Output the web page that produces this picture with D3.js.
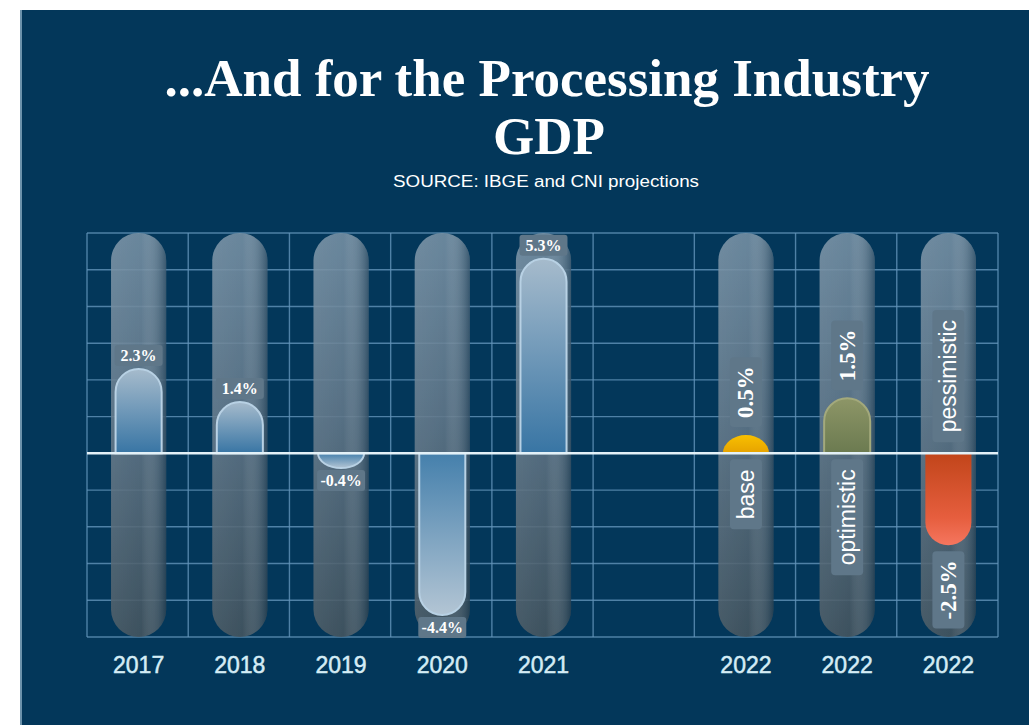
<!DOCTYPE html>
<meta charset="utf-8">
<style>
  body {
    margin: 0;
    background: #fff;
  }
  .title {
    font-family: "Liberation Serif", "Times New Roman", serif;
    font-weight: bold;
    font-size: 53px;
    fill: #fff;
    text-anchor: middle;
  }
  .source {
    font-family: "Liberation Sans", Arial, sans-serif;
    font-size: 16px;
    fill: #fff;
    text-anchor: middle;
  }
  .grid line {
    stroke: #6394ba;
    stroke-width: 1.4;
    opacity: 0.8;
  }
  .year {
    font-family: "Liberation Sans", Arial, sans-serif;
    font-size: 23px;
    fill: #d4ecf5;
    stroke: #d4ecf5;
    stroke-width: 0.5;
    text-anchor: middle;
  }
  .val {
    font-family: "Liberation Serif", "Times New Roman", serif;
    font-weight: bold;
    fill: #fff;
    text-anchor: middle;
  }
  .scen {
    font-family: "Liberation Sans", Arial, sans-serif;
    font-size: 23px;
    fill: #fff;
    text-anchor: middle;
  }
</style>
<body>
<svg id="chart" width="1029" height="725"></svg>
<script src="https://cdn.jsdelivr.net/npm/d3@7/dist/d3.min.js"></script>
<script>
// data
var slots = ["2017", "2018", "2019", "2020", "2021", "", "2022 base", "2022 optimistic", "2022 pessimistic"];
var keys = ["2017", "2018", "2019", "2020", "2021", "2022 base", "2022 optimistic", "2022 pessimistic"];
var years = ["2017", "2018", "2019", "2020", "2021", "2022", "2022", "2022"];
var values = [2.3, 1.4, -0.4, -4.4, 5.3, 0.5, 1.5, -2.5];
var scenarios = ["", "", "", "", "", "base", "optimistic", "pessimistic"];
var yTicks = [-5, -4, -3, -2, -1, 0, 1, 2, 3, 4, 5, 6];

var svg = d3.select("#chart");

// panel background
svg.append("rect")
    .attr("x", 20).attr("y", 10)
    .attr("width", 1009).attr("height", 715)
    .attr("fill", "#03375a");
svg.append("rect")
    .attr("x", 20).attr("y", 10)
    .attr("width", 2).attr("height", 715)
    .attr("fill", "#6c92ab");

svg.append("text").attr("class", "title")
    .attr("x", 547).attr("y", 96)
    .text("...And for the Processing Industry");
svg.append("text").attr("class", "title")
    .attr("x", 549).attr("y", 154)
    .text("GDP");
svg.append("text").attr("class", "source")
    .attr("x", 546).attr("y", 187)
    .attr("textLength", 306)
    .attr("lengthAdjust", "spacingAndGlyphs")
    .text("SOURCE: IBGE and CNI projections");

var x = d3.scaleBand()
    .domain(slots)
    .range([87, 998]);

var y = d3.scaleLinear()
    .domain([-5, 6])
    .range([637, 233]);

var bw = x.bandwidth();
var tubeW = bw * 0.545;
var barW = bw * 0.455;

// gradients
var defs = svg.append("defs");

function vGrad(id, stops) {
  var g = defs.append("linearGradient")
      .attr("id", id)
      .attr("x1", 0).attr("y1", 0).attr("x2", 0).attr("y2", 1);
  stops.forEach(function(s) {
    g.append("stop").attr("offset", s[0]).attr("stop-color", s[1]).attr("stop-opacity", s[2] == null ? 1 : s[2]);
  });
}

vGrad("tubeGrad", [[0, "#7892a6"], [0.45, "#62788a"], [1, "#45555f"]]);
vGrad("posBlue", [[0, "#a6bbcc"], [1, "#3875a4"]]);
vGrad("negBlue", [[0, "#4580ac"], [1, "#b3c5d4"]]);
vGrad("yellow", [[0, "#f8c000"], [1, "#e6a200"]]);
vGrad("olive", [[0, "#8d9667"], [1, "#6b7a50"]]);
vGrad("red", [[0, "#c1451a"], [0.7, "#e65e3e"], [1, "#f5765f"]]);

var shade = defs.append("linearGradient")
    .attr("id", "tubeShade")
    .attr("x1", 0).attr("y1", 0).attr("x2", 1).attr("y2", 0);
shade.append("stop").attr("offset", 0).attr("stop-color", "#fff").attr("stop-opacity", 0.06);
shade.append("stop").attr("offset", 0.55).attr("stop-color", "#fff").attr("stop-opacity", 0);
shade.append("stop").attr("offset", 1).attr("stop-color", "#01223a").attr("stop-opacity", 0.45);

var fills = { "": null, base: "url(#yellow)", optimistic: "url(#olive)", pessimistic: "url(#red)" };
var strokes = { "": "#b8d1e4", base: "none", optimistic: "#a3a97c", pessimistic: "none" };

// grid
var grid = svg.append("g").attr("class", "grid");
grid.selectAll("line.h")
    .data(yTicks)
  .enter().append("line")
    .attr("class", "h")
    .attr("x1", x.range()[0]).attr("x2", x.range()[1])
    .attr("y1", function(d) { return y(d); })
    .attr("y2", function(d) { return y(d); });
grid.selectAll("line.v")
    .data(slots.map(function(s) { return x(s); }).concat([x.range()[1]]))
  .enter().append("line")
    .attr("class", "v")
    .attr("x1", function(d) { return d; }).attr("x2", function(d) { return d; })
    .attr("y1", y(6)).attr("y2", y(-5));

function cx(i) { return x(keys[i]) + bw / 2 + 1; }

// background tubes
var tubes = svg.append("g").selectAll("g")
    .data(keys)
  .enter().append("g")
    .attr("opacity", 0.88);
tubes.append("rect")
    .attr("x", function(d, i) { return cx(i) - tubeW / 2; })
    .attr("y", y(6))
    .attr("width", tubeW)
    .attr("height", y(-5) - y(6))
    .attr("rx", tubeW / 2)
    .attr("fill", "url(#tubeGrad)");
tubes.append("rect")
    .attr("x", function(d, i) { return cx(i) - tubeW / 2; })
    .attr("y", y(6))
    .attr("width", tubeW)
    .attr("height", y(-5) - y(6))
    .attr("rx", tubeW / 2)
    .attr("fill", "url(#tubeShade)");

// value bars, rounded at the far end
function barPath(i) {
  var v = values[i];
  var x0 = cx(i) - barW / 2, r = barW / 2, base = y(0);
  if (v >= 0) {
    var top = y(v), ry = Math.min(r, base - top);
    return "M" + x0 + "," + base + "L" + x0 + "," + (top + ry) +
      "A" + r + "," + ry + " 0 0 1 " + (x0 + barW) + "," + (top + ry) +
      "L" + (x0 + barW) + "," + base + "Z";
  }
  var bot = y(v), ryn = Math.min(r, bot - base);
  return "M" + x0 + "," + base + "L" + x0 + "," + (bot - ryn) +
    "A" + r + "," + ryn + " 0 0 0 " + (x0 + barW) + "," + (bot - ryn) +
    "L" + (x0 + barW) + "," + base + "Z";
}

svg.append("g").selectAll("path")
    .data(values)
  .enter().append("path")
    .attr("d", function(d, i) { return barPath(i); })
    .attr("fill", function(d, i) {
      return fills[scenarios[i]] || (d >= 0 ? "url(#posBlue)" : "url(#negBlue)");
    })
    .attr("stroke", function(d, i) { return strokes[scenarios[i]]; })
    .attr("stroke-width", 2);

// zero line
svg.append("line")
    .attr("x1", x.range()[0]).attr("x2", x.range()[1])
    .attr("y1", y(0)).attr("y2", y(0))
    .attr("stroke", "#e3f1f8")
    .attr("stroke-width", 2.5);

function fmt(v) { return v.toFixed(1) + "%"; }

// horizontal value labels (2017-2021)
var labels = svg.append("g");
values.forEach(function(v, i) {
  var g = labels.append("g");
  if (!scenarios[i]) {
    var by = v >= 0 ? y(v) - 24 : y(v) + 2;
    g.append("rect")
        .attr("x", cx(i) - 24).attr("y", by)
        .attr("width", 48).attr("height", 21)
        .attr("rx", 3)
        .attr("fill", "#5f7789");
    g.append("text").attr("class", "val")
        .attr("x", cx(i)).attr("y", by + 10.5)
        .attr("dominant-baseline", "central")
        .style("font-size", "16px")
        .text(fmt(v));
    return;
  }
  // rotated labels for the 2022 scenarios
  var tv = g.append("text").attr("class", "val")
      .style("font-size", "23px")
      .attr("dominant-baseline", "central")
      .text(fmt(v));
  var ts = g.append("text").attr("class", "scen")
      .attr("dominant-baseline", "central")
      .text(scenarios[i]);
  var hv = tv.node().getComputedTextLength() + 18;
  var hs = ts.node().getComputedTextLength() + 20;
  var vTop = v >= 0 ? y(v) - 8 - hv : y(v) + 6;
  var sTop = v >= 0 ? y(0) + 6 : y(0) - 11 - hs;
  [[tv, vTop, hv], [ts, sTop, hs]].forEach(function(p) {
    g.insert("rect", "text")
        .attr("x", cx(i) - 16).attr("y", p[1])
        .attr("width", 32).attr("height", p[2])
        .attr("rx", 4)
        .attr("fill", "#5f7789");
    p[0].attr("transform", "translate(" + cx(i) + "," + (p[1] + p[2] / 2) + ") rotate(-90)");
  });
});

// year labels
svg.append("g").selectAll("text")
    .data(years)
  .enter().append("text")
    .attr("class", "year")
    .attr("x", function(d, i) { return cx(i); })
    .attr("y", 673)
    .text(function(d) { return d; });
</script>
</body>
